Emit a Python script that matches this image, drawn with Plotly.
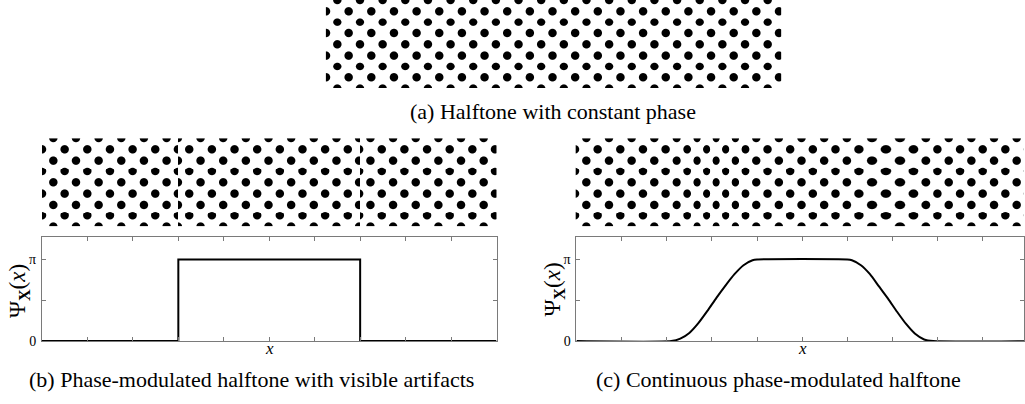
import numpy as np
import plotly.graph_objects as go

# ---------------- data ----------------
# (b) piecewise-constant phase  (x in axis units 0..1, psi in units of pi)
b_x = [0.0, 0.3, 0.7, 1.0]
b_psi = [0.0, 1.0, 0.0, 0.0]

# (c) smooth phase
c_x = [0.0, 0.21, 0.23, 0.25, 0.27, 0.29, 0.31, 0.33, 0.35, 0.37, 0.39, 0.40,
       0.60, 0.61, 0.63, 0.65, 0.67, 0.69, 0.71, 0.73, 0.75, 0.77, 0.79, 1.0]
c_psi = [0.0, 0.0, 0.03, 0.10, 0.22, 0.37, 0.53, 0.68, 0.82, 0.93, 0.99, 1.0,
         1.0, 0.99, 0.93, 0.82, 0.67, 0.52, 0.36, 0.21, 0.09, 0.02, 0.0, 0.0]

y_tickvals_pi = [0.0, 1.0]
y_ticktext = ["0", "π"]
y_minor_pi = [0.5]
x_tickvals = [0.0, 0.1, 0.2, 0.3, 0.4, 0.5, 0.6, 0.7, 0.8, 0.9, 1.0]
y_max = 4.0

captions = ["(a) Halftone with constant phase",
            "(b) Phase-modulated halftone with visible artifacts",
            "(c) Continuous phase-modulated halftone"]

# ---------------- layout constants (pixels) ----------------
FW, FH = 1025, 404
PERIOD = 22.65      # halftone lattice period (px)
RADIUS = 4.2        # dot radius (px)
X_OFF = PERIOD / 2

def fx(px):
    return px / FW

def fy(py):
    return 1 - py / FH

def halftone(width, height, xfrac=None, phase_x=None, phase_pi=None):
    xs = np.arange(width) + 0.5
    ys = np.arange(height) + 0.5
    shift = np.zeros(width)
    if phase_x is not None:
        ph = np.interp(xfrac, phase_x, phase_pi)  # texture only
        shift = ph * PERIOD / 2.0
    u = xs[None, :] - X_OFF + shift[None, :]
    v = ys[:, None] + 0 * u
    d1 = np.hypot(u - PERIOD * np.round(u / PERIOD), v - PERIOD * np.round(v / PERIOD))
    u2 = u - PERIOD / 2
    v2 = v - PERIOD / 2
    d2 = np.hypot(u2 - PERIOD * np.round(u2 / PERIOD), v2 - PERIOD * np.round(v2 / PERIOD))
    d = np.minimum(d1, d2)
    return np.clip(RADIUS + 0.5 - d, 0, 1).astype(np.float32)

fig = go.Figure()

# panel geometry
A_L, A_R, A_T, A_B = 326, 782, 0, 90
B_L, B_R = 42, 497
C_L, C_R = 577, 1029
H_T, H_B = 141, 231
P_T, P_B = 242, 348

cs = [[0, "#ffffff"], [1, "#000000"]]

# halftone (a)
wa, ha = A_R - A_L, A_B - A_T
fig.add_trace(go.Heatmap(z=halftone(wa, ha), x0=0.5, dx=1, y0=0.5, dy=1,
                         colorscale=cs, zmin=0, zmax=1, showscale=False,
                         hoverinfo="skip", xaxis="x3", yaxis="y3"))
# halftone (b)
wb, hb = B_R - B_L, H_B - H_T
xb_frac = (np.arange(wb) + 0.5) / wb
fig.add_trace(go.Heatmap(z=halftone(wb, hb, xb_frac, [0, 0.3, 0.3, 0.7, 0.7, 1.0],
                                    [0, 0, 1, 1, 0, 0]),
                         x0=0.5, dx=1, y0=0.5, dy=1,
                         colorscale=cs, zmin=0, zmax=1, showscale=False,
                         hoverinfo="skip", xaxis="x4", yaxis="y4"))
# halftone (c)
wc_full = C_R - C_L + 1
wc = FW - (C_L - 1)
xc_frac = (np.arange(wc) + 0.5) / wc_full
fig.add_trace(go.Heatmap(z=halftone(wc, hb, xc_frac, c_x, c_psi),
                         x0=0.5, dx=1, y0=0.5, dy=1,
                         colorscale=cs, zmin=0, zmax=1, showscale=False,
                         hoverinfo="skip", xaxis="x5", yaxis="y5"))

# curves
fig.add_trace(go.Scatter(x=b_x, y=[v * np.pi for v in b_psi], mode="lines",
                         line=dict(color="black", width=2, shape="hv"),
                         xaxis="x", yaxis="y", hoverinfo="skip"))
fig.add_trace(go.Scatter(x=c_x, y=[v * np.pi for v in c_psi], mode="lines",
                         line=dict(color="black", width=2, shape="spline", smoothing=0.6),
                         xaxis="x2", yaxis="y2", hoverinfo="skip"))

axis_col = "#7a7a7a"
tick_font = dict(family="Liberation Serif", size=14, color="black")

def plot_xaxis(l, r, rng_end):
    return dict(domain=[fx(l), min(1.0, fx(r))], range=[0, rng_end],
                showgrid=False, zeroline=False, showline=True, linecolor=axis_col,
                linewidth=1, mirror="ticks", ticks="inside", ticklen=4,
                tickcolor=axis_col, tickwidth=1, tickmode="array", tickvals=x_tickvals,
                showticklabels=False, fixedrange=True)

def plot_yaxis(anchor):
    return dict(domain=[fy(P_B), fy(P_T)], range=[0, y_max], anchor=anchor,
                showgrid=False, zeroline=False, showline=True, linecolor=axis_col,
                linewidth=1, mirror="ticks", ticks="inside", ticklen=4,
                tickcolor=axis_col, tickwidth=1, tickmode="array",
                tickvals=[v * np.pi for v in y_tickvals_pi], ticktext=y_ticktext,
                minor=dict(tickmode="array", tickvals=[v * np.pi for v in y_minor_pi],
                           ticks="inside", ticklen=4, tickcolor=axis_col, tickwidth=1,
                           showgrid=False),
                tickfont=tick_font, ticklabelstandoff=2, fixedrange=True)

c_range_end = (FW - C_L) / (C_R - C_L)

def img_axes(l, r, t, b, w, h):
    xa = dict(domain=[fx(l), min(1.0, fx(r))], range=[0, w], visible=False, fixedrange=True)
    ya = dict(domain=[fy(b), fy(t)], range=[h, 0], visible=False, fixedrange=True)
    return xa, ya

x3, y3 = img_axes(A_L, A_R, A_T, A_B, wa, ha)
x4, y4 = img_axes(B_L, B_R, H_T, H_B, wb, hb)
x5, y5 = img_axes(C_L - 1, FW, H_T, H_B, wc, hb)
y3["anchor"] = "x3"; y4["anchor"] = "x4"; y5["anchor"] = "x5"
x3["anchor"] = "y3"; x4["anchor"] = "y4"; x5["anchor"] = "y5"

xa1 = plot_xaxis(B_L, B_R, 1.0); xa1["anchor"] = "y"
xa2 = plot_xaxis(C_L, C_R, c_range_end); xa2["anchor"] = "y2"

serif = "Liberation Serif"
ann = []
ann.append(dict(text=captions[0], x=fx(554), y=fy(114), xref="paper", yref="paper",
                showarrow=False, xanchor="center", yanchor="middle",
                font=dict(family=serif, size=22, color="black")))
ann.append(dict(text=captions[1], x=fx(252), y=fy(387), xref="paper", yref="paper",
                showarrow=False, xanchor="center", yanchor="middle",
                font=dict(family=serif, size=22, color="black")))
ann.append(dict(text=captions[2], x=fx(779), y=fy(387), xref="paper", yref="paper",
                showarrow=False, xanchor="center", yanchor="middle",
                font=dict(family=serif, size=22, color="black")))
ylab = "Ψ<sub><b>X</b></sub>(<i>x</i>)"
for xc, yc in [(19, 297), (555, 295)]:
    ann.append(dict(text=ylab, x=fx(xc), y=fy(yc), xref="paper", yref="paper",
                    showarrow=False, textangle=-90, xanchor="center", yanchor="middle",
                    font=dict(family=serif, size=23, color="black")))
for xc in [(B_L + B_R) / 2, C_L + 0.5 * (C_R - C_L)]:
    ann.append(dict(text="<i>x</i>", x=fx(xc), y=fy(356), xref="paper", yref="paper",
                    showarrow=False, xanchor="center", yanchor="middle",
                    font=dict(family=serif, size=17, color="black")))

fig.update_layout(
    width=FW, height=FH, margin=dict(l=0, r=0, t=0, b=0),
    paper_bgcolor="white", plot_bgcolor="rgba(0,0,0,0)", showlegend=False,
    xaxis=xa1, yaxis=plot_yaxis("x"),
    xaxis2=xa2, yaxis2=plot_yaxis("x2"),
    xaxis3=x3, yaxis3=y3, xaxis4=x4, yaxis4=y4, xaxis5=x5, yaxis5=y5,
    annotations=ann,
)

fig.write_html("out.html", config={"displayModeBar": False},
               post_script="document.body.style.margin='0';document.body.style.overflow='hidden';")
